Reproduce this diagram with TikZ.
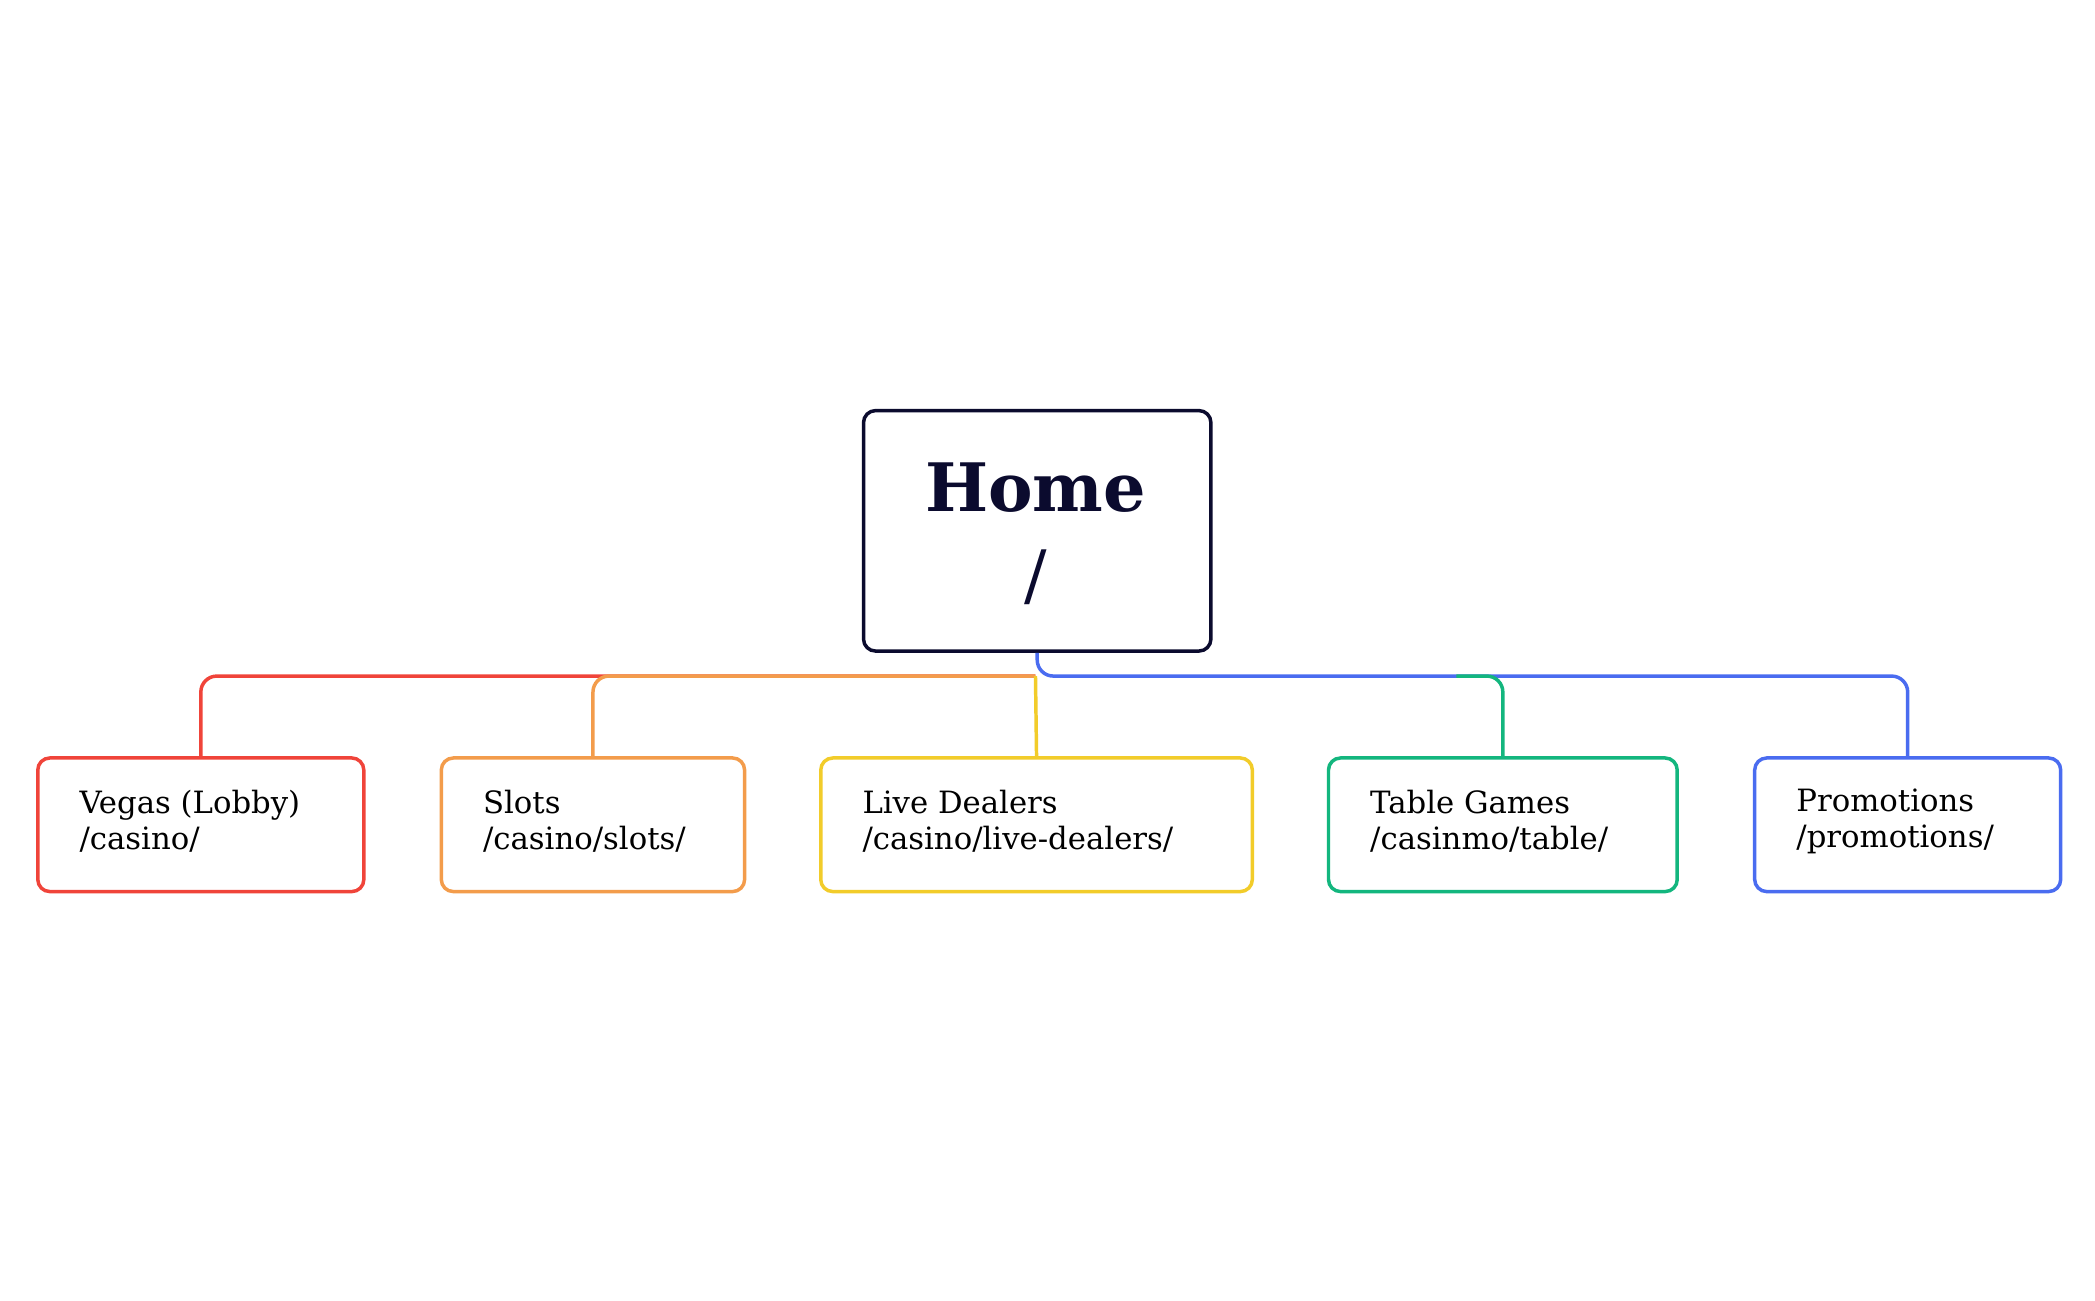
\documentclass[tikz,border=0pt]{standalone}
\usepackage{fontspec}
\setmainfont{DejaVu Serif}
\definecolor{cred}{HTML}{F0443A}
\definecolor{corange}{HTML}{F39C4B}
\definecolor{cyellow}{HTML}{F2CC2A}
\definecolor{cgreen}{HTML}{13B67E}
\definecolor{cblue}{HTML}{4A6CF0}
\definecolor{cnavy}{HTML}{0B0B2E}
\begin{document}
\begin{tikzpicture}[x=1pt,y=-1pt,
  child/.style={draw=#1,line width=2.6pt,rounded corners=9pt,anchor=north west,inner sep=0pt},
  link/.style={draw=#1,line width=2.6pt,rounded corners=12pt},
  lab/.style={anchor=west,font=\fontsize{23}{27}\selectfont,text=black,align=left}]
\useasboundingbox (0,0) rectangle (1568,973);
\fill[white] (0,0) rectangle (1568,973);
\node[draw=cnavy,line width=2.6pt,rounded corners=9pt,minimum width=260pt,minimum height=180pt,anchor=north west,inner sep=0pt] (home) at (645,306) {};
\node[text=cnavy,font=\bfseries\fontsize{50}{60}\selectfont] (ht) at (775,365) {Home};
\node[text=cnavy,font=\fontsize{50}{60}\selectfont] (hs) at (775,432) {/};
\node[child=cred,minimum width=244pt,minimum height=100pt] (v) at (27,566) {};
\node[child=corange,minimum width=227pt,minimum height=100pt] (s) at (329,566) {};
\node[child=cyellow,minimum width=323pt,minimum height=100pt] (l) at (613,566) {};
\node[child=cgreen,minimum width=261pt,minimum height=100pt] (t) at (993,566) {};
\node[child=cblue,minimum width=229pt,minimum height=100pt] (p) at (1312,566) {};
\node[lab] (vt) at (56,615) {Vegas (Lobby)\\/casino/};
\node[lab] (st) at (358,615) {Slots\\/casino/slots/};
\node[lab] (lt) at (642,615) {Live Dealers\\/casino/live-dealers/};
\node[lab] (tt) at (1022,615) {Table Games\\/casinmo/table/};
\node[lab] (pt) at (1341,615) {Promotions\\/promotions/};
\coordinate (bus) at (775,506);
\draw[link=cred] (v.north) |- (bus);
\draw[link=corange] (s.north) |- (bus);
\draw[link=cblue] (home.south) |- (p.north |- bus) -- (p.north);
\draw[link=cgreen] (t.north) |- (1090,506);
\draw[cyellow,line width=2.6pt] (bus) -- (l.north);
\end{tikzpicture}
\end{document}
